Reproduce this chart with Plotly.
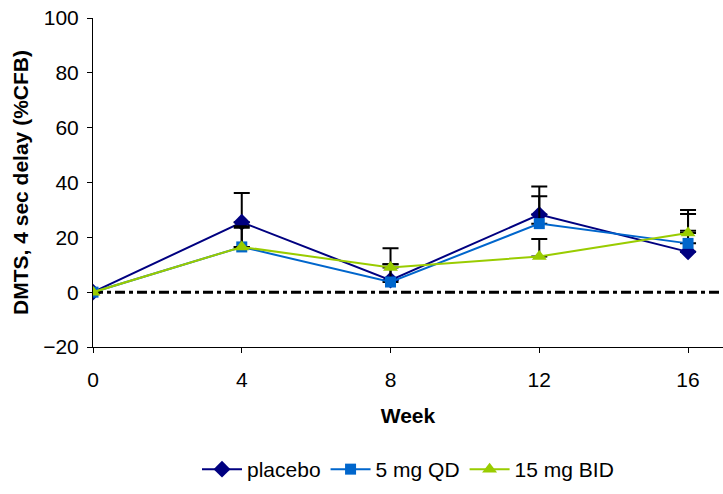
import plotly.graph_objects as go

weeks = [0, 4, 8, 12, 16]

placebo = [0, 25.5, 4.4, 28.3, 14.7]
placebo_err = [0, 10.7, 5.8, 10.2, 7.7]

qd5 = [0, 16.5, 3.7, 25.0, 17.8]
qd5_err = [0, 7.5, 6.5, 10.0, 12.2]

bid15 = [0, 16.5, 9.0, 13.0, 21.6]
bid15_err = [0, 7.0, 7.0, 6.4, 6.9]

x_ticks = [0, 4, 8, 12, 16]
y_ticks = [-20, 0, 20, 40, 60, 80, 100]

FONT = "Liberation Sans, Arial, sans-serif"

series = [
    ("placebo", placebo, placebo_err, "#000080", "diamond", 13),
    ("5 mg QD", qd5, qd5_err, "#0066CC", "square", 11),
    ("15 mg BID", bid15, bid15_err, "#99CC00", "triangle-up", 13),
]

fig = go.Figure()
for name, vals, err, color, symbol, size in series:
    fig.add_trace(go.Scatter(
        x=weeks, y=vals, name=name, mode="lines+markers",
        line=dict(color=color, width=2),
        marker=dict(symbol=symbol, size=size, color=color, line=dict(width=0)),
        error_y=dict(type="data", array=err, arrayminus=[0] * len(err),
                     symmetric=False, color="black", thickness=2, width=8),
    ))

# dash-dot reference line at zero change
fig.add_shape(type="line", xref="x", yref="y", x0=0, x1=17, y0=0, y1=0,
              line=dict(color="black", width=3, dash="10px,4px,4px,4px"),
              layer="below")

fig.update_layout(
    width=723, height=494,
    margin=dict(l=93, r=0, t=18, b=147),
    paper_bgcolor="white", plot_bgcolor="white",
    font=dict(family=FONT, size=21, color="black"),
    showlegend=True,
    legend=dict(orientation="h", x=0.5, xanchor="center", y=-0.31, yanchor="top",
                font=dict(size=21), itemwidth=40, tracegroupgap=0),
    xaxis=dict(range=[0, 16.94], tickvals=x_ticks, showgrid=False, zeroline=False,
               showline=True, linecolor="black", linewidth=1,
               ticks="outside", ticklen=5, tickcolor="black", ticklabelstandoff=9,
               title=dict(text="<b>Week</b>", font=dict(size=21), standoff=18)),
    yaxis=dict(range=[-20, 100], tickvals=y_ticks, showgrid=False, zeroline=False,
               showline=True, linecolor="black", linewidth=1,
               ticks="outside", ticklen=5, tickcolor="black", ticklabelstandoff=4,
               title=dict(text="<b>DMTS, 4 sec delay (%CFB)</b>", font=dict(size=21),
                          standoff=8)),
)

fig.write_html("out.html")
